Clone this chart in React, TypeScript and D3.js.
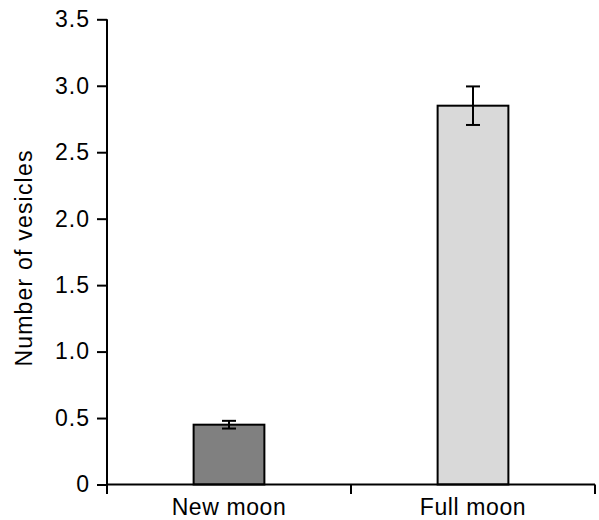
import { useEffect, useRef } from 'react';
import * as d3 from 'd3';

const categories = ['New moon', 'Full moon'];
const means = [0.45, 2.85];
const errors = [0.029, 0.145];
const barColors = ['#808080', '#d9d9d9'];
const yTicks = [0, 0.5, 1.0, 1.5, 2.0, 2.5, 3.0, 3.5];
const yTickLabels = ['0', '0.5', '1.0', '1.5', '2.0', '2.5', '3.0', '3.5'];
const yTitle = 'Number of vesicles';

function App() {
  const svgRef = useRef(null);

  useEffect(() => {
    const width = 599,
      height = 520;
    const left = 107,
      right = 595,
      top = 19.3,
      bottom = 484.5;
    const font = '"Liberation Sans", Arial, Helvetica, sans-serif';

    const svg = d3.select(svgRef.current);
    svg.selectAll('*').remove();
    svg.attr('width', width).attr('height', height);

    const x = d3.scaleBand().domain(categories).range([left, right]).padding(0);
    const y = d3.scaleLinear().domain([0, 3.5]).range([bottom, top]);
    const barW = x.bandwidth() * 0.29;

    // bars
    svg
      .selectAll('rect.bar')
      .data(categories)
      .join('rect')
      .attr('class', 'bar')
      .attr('x', (d) => x(d) + x.bandwidth() / 2 - barW / 2)
      .attr('y', (d, i) => y(means[i]))
      .attr('width', barW)
      .attr('height', (d, i) => y(0) - y(means[i]))
      .attr('fill', (d, i) => barColors[i])
      .attr('stroke', '#000')
      .attr('stroke-width', 2);

    // error bars
    const err = svg.append('g').attr('stroke', '#000').attr('stroke-width', 2);
    categories.forEach((c, i) => {
      const cx = x(c) + x.bandwidth() / 2;
      const hi = y(means[i] + errors[i]);
      const lo = y(means[i] - errors[i]);
      err.append('line').attr('x1', cx).attr('x2', cx).attr('y1', hi).attr('y2', lo);
      err.append('line').attr('x1', cx - 7).attr('x2', cx + 7).attr('y1', hi).attr('y2', hi);
      err.append('line').attr('x1', cx - 7).attr('x2', cx + 7).attr('y1', lo).attr('y2', lo);
    });

    // y axis
    const yAxis = svg
      .append('g')
      .attr('transform', `translate(${left},0)`)
      .call(
        d3
          .axisLeft(y)
          .tickValues(yTicks)
          .tickFormat((d, i) => yTickLabels[i])
          .tickSize(10)
          .tickSizeOuter(0)
          .tickPadding(7),
      );
    yAxis.select('.domain').attr('d', `M0,${top}V${bottom + 9.5}`).attr('stroke-width', 2);
    yAxis.selectAll('.tick line').attr('stroke-width', 2);
    yAxis
      .selectAll('.tick text')
      .attr('font-family', font)
      .attr('font-size', 23)
      .attr('letter-spacing', 1)
      .attr('fill', '#000');

    // x axis
    const xAxis = svg.append('g').attr('stroke', '#000').attr('stroke-width', 2);
    xAxis.append('line').attr('x1', left).attr('x2', right).attr('y1', bottom).attr('y2', bottom);
    const bounds = [...categories.map((c) => x(c)), right];
    bounds.slice(1).forEach((b) => {
      xAxis.append('line').attr('x1', b).attr('x2', b).attr('y1', bottom).attr('y2', bottom + 9.5);
    });

    svg
      .append('g')
      .selectAll('text')
      .data(categories)
      .join('text')
      .attr('x', (d) => x(d) + x.bandwidth() / 2)
      .attr('y', 515)
      .attr('text-anchor', 'middle')
      .attr('font-family', font)
      .attr('font-size', 23)
      .attr('letter-spacing', 0.6)
      .text((d) => d);

    svg
      .append('text')
      .attr('transform', 'translate(31.5,258) rotate(-90)')
      .attr('text-anchor', 'middle')
      .attr('font-family', font)
      .attr('font-size', 23)
      .attr('letter-spacing', 1.2)
      .text(yTitle);
  }, []);

  return (
    <div>
      <svg ref={svgRef} style={{ position: 'absolute', left: 0, top: 0 }}></svg>
    </div>
  );
}

export default App;
